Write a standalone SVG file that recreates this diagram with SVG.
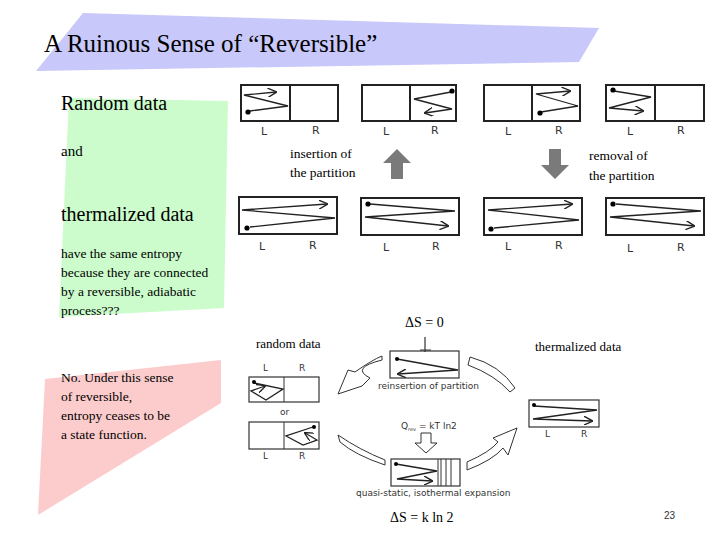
<svg xmlns="http://www.w3.org/2000/svg" width="720" height="540" viewBox="0 0 720 540">
<defs>
<marker id="ah" viewBox="0 0 10 10" refX="9" refY="5" markerWidth="7" markerHeight="7" orient="auto"><path d="M0,0 L10,5 L0,10" fill="none" stroke="#222" stroke-width="1.5"/></marker>
<style>
.s{font-family:'Liberation Serif','DejaVu Serif',serif;fill:#000}
.h{font-family:'DejaVu Sans',sans-serif;fill:#333;font-size:9px}
.b{fill:#fff;stroke:#222;stroke-width:2}
.t{fill:#fff;stroke:#333;stroke-width:1.2}
.z{fill:none;stroke:#222;stroke-width:1.3}
.f{fill:#fff;stroke:#333;stroke-width:1}
</style>
</defs>
<rect width="720" height="540" fill="#fff"/>
<polygon points="83,13 599,28 579,62 36,71" fill="#c8c8fa"/>
<polygon points="69,98 228,101 224,308 59,317" fill="#ccfccc"/>
<polygon points="45,379 221,360 221,403 38,515" fill="#fccccc"/>
<g font-family="Liberation Serif, DejaVu Serif, serif" fill="#000">
<text x="44" y="52" font-size="25">A Ruinous Sense of “Reversible”</text>
<text x="61" y="110" font-size="20">Random data</text>
<text x="61" y="156" font-size="15">and</text>
<text x="61" y="221" font-size="20">thermalized data</text>
<g font-size="13.5"><text x="61" y="258">have the same entropy</text><text x="61" y="277">because they are connected</text><text x="61" y="296">by a reversible, adiabatic</text><text x="61" y="315">process???</text></g>
<g font-size="13.5"><text x="61" y="382">No. Under this sense</text><text x="61" y="401">of reversible,</text><text x="61" y="420">entropy ceases to be</text><text x="61" y="439">a state function.</text></g>
<g font-size="13.5"><text x="290" y="158">insertion of</text><text x="290" y="177">the partition</text><text x="589" y="160">removal of</text><text x="589" y="180">the partition</text></g>
<text x="405" y="327" font-size="14">ΔS = 0</text>
<text x="256" y="348" font-size="13">random data</text>
<text x="535" y="351" font-size="13">thermalized data</text>
<text x="390" y="522" font-size="14">ΔS = k ln 2</text>
</g>
<g id="row1">
<rect class="b" x="241" y="85" width="97" height="36"/><line x1="290" y1="85" x2="290" y2="121" stroke="#222" stroke-width="2"/>
<polyline class="z" points="250,111 288,106 244,95 276,92" marker-end="url(#ah)"/><circle cx="248" cy="112" r="2.6"/>
<rect class="b" x="362" y="85" width="94" height="36"/><line x1="410" y1="85" x2="410" y2="121" stroke="#222" stroke-width="2"/>
<polyline class="z" points="451,92 414,99 452,109 425,113" marker-end="url(#ah)"/><circle cx="452" cy="91" r="2.6"/>
<rect class="b" x="484" y="85" width="96" height="36"/><line x1="532" y1="85" x2="532" y2="121" stroke="#222" stroke-width="2"/>
<polyline class="z" points="541,112 578,106 536,94 570,91" marker-end="url(#ah)"/><circle cx="540" cy="113" r="2.6"/>
<rect class="b" x="606" y="85" width="98" height="36"/><line x1="655" y1="85" x2="655" y2="121" stroke="#222" stroke-width="2"/>
<polyline class="z" points="614,91 651,97 609,108 643,111" marker-end="url(#ah)"/><circle cx="613" cy="90" r="2.6"/>
</g>
<g id="row2">
<rect class="b" x="239" y="197" width="98" height="37"/>
<polyline class="z" points="250,227 335,218 242,210 327,204" marker-end="url(#ah)"/><circle cx="247" cy="228" r="2.6"/>
<rect class="b" x="361" y="198" width="98" height="37"/>
<polyline class="z" points="370,204 455,211 365,217 448,226" marker-end="url(#ah)"/><circle cx="368" cy="204" r="2.6"/>
<rect class="b" x="484" y="198" width="98" height="37"/>
<polyline class="z" points="494,228 579,220 488,210 572,204" marker-end="url(#ah)"/><circle cx="491" cy="229" r="2.6"/>
<rect class="b" x="606" y="198" width="98" height="37"/>
<polyline class="z" points="616,204 701,211 610,217 694,226" marker-end="url(#ah)"/><circle cx="613" cy="204" r="2.6"/>
</g>
<g font-family="DejaVu Sans,sans-serif" font-size="11" fill="#333">
<text x="261" y="135">L</text><text x="312" y="134">R</text><text x="383" y="135">L</text><text x="431" y="134">R</text><text x="505" y="135">L</text><text x="555" y="134">R</text><text x="627" y="135">L</text><text x="677" y="134">R</text>
<text x="259" y="250">L</text><text x="309" y="249">R</text><text x="383" y="251">L</text><text x="432" y="250">R</text><text x="505" y="250">L</text><text x="555" y="249">R</text><text x="627" y="252">L</text><text x="677" y="251">R</text>
</g>
<g id="arrows" fill="#7a7a7a">
<polygon points="397,149 411,163 403,163 403,179 391,179 391,163 383,163"/>
<polygon points="555,179 541,165 549,165 549,149 561,149 561,165 569,165"/>
</g>
<text x="664" y="519" font-family="Liberation Sans,sans-serif" font-size="10" fill="#333">23</text>
<g id="cycle">
<path class="f" d="M382,360 Q350,368 370,378 L362,386 L338,394 L348,370 L355,372 Q372,360 382,356 Z"/>
<path class="f" d="M470,357 Q500,365 515,388 L510,392 Q495,375 468,365 Z"/>
<path class="f" d="M338,435 Q360,450 385,460 L385,465 Q355,455 340,442 Z"/>
<path class="f" d="M467,462 Q490,452 498,442 L493,438 L517,428 L508,455 L503,448 Q493,460 467,470 Z"/>
<rect class="t" x="390" y="351" width="69" height="27"/>
<path d="M425,337 V352 M420,350 H431" stroke="#333" stroke-width="1.2" fill="none"/>
<polyline class="z" points="397,359 458,370 398,374" marker-end="url(#ah)"/><circle cx="397" cy="359" r="2"/>
<text class="h" x="378" y="389">reinsertion of partition</text>
<rect class="t" x="249" y="377" width="70" height="25"/><line x1="284" y1="377" x2="284" y2="402" stroke="#333"/>
<polyline class="z" points="254,383 283,389 266,400 251,391 265,386" marker-end="url(#ah)"/><circle cx="254" cy="382" r="2"/>
<text class="h" x="263" y="371">L</text><text class="h" x="299" y="371">R</text>
<text class="h" x="280" y="415">or</text>
<rect class="t" x="249" y="422" width="70" height="27"/><line x1="284" y1="422" x2="284" y2="449" stroke="#333"/>
<polyline class="z" points="313,427 286,436 303,445 317,440 305,433" marker-end="url(#ah)"/><circle cx="314" cy="427" r="2"/>
<text class="h" x="263" y="459">L</text><text class="h" x="299" y="459">R</text>
<rect class="t" x="529" y="400" width="70" height="27"/>
<polyline class="z" points="534,406 597,410 533,419 592,421" marker-end="url(#ah)"/><circle cx="534" cy="405" r="2"/>
<text class="h" x="545" y="437">L</text><text class="h" x="581" y="437">R</text>
<text class="h" x="401" y="429">Q<tspan font-size="5" dy="2">rev</tspan><tspan dy="-2"> = kT ln2</tspan></text>
<polygon class="f" points="421,433 431,433 431,443 437,443 426,453 415,443 421,443"/>
<rect class="t" x="391" y="459" width="69" height="27"/>
<path d="M438,459 V486 M441,459 V486 M446,459 V486 M451,459 V486" stroke="#333" stroke-width="1"/>
<polyline class="z" points="396,464 437,471 397,479 432,481" marker-end="url(#ah)"/><circle cx="396" cy="464" r="2"/>
<text class="h" x="356" y="496" font-size="8.5">quasi-static, isothermal expansion</text>
</g>
</svg>
